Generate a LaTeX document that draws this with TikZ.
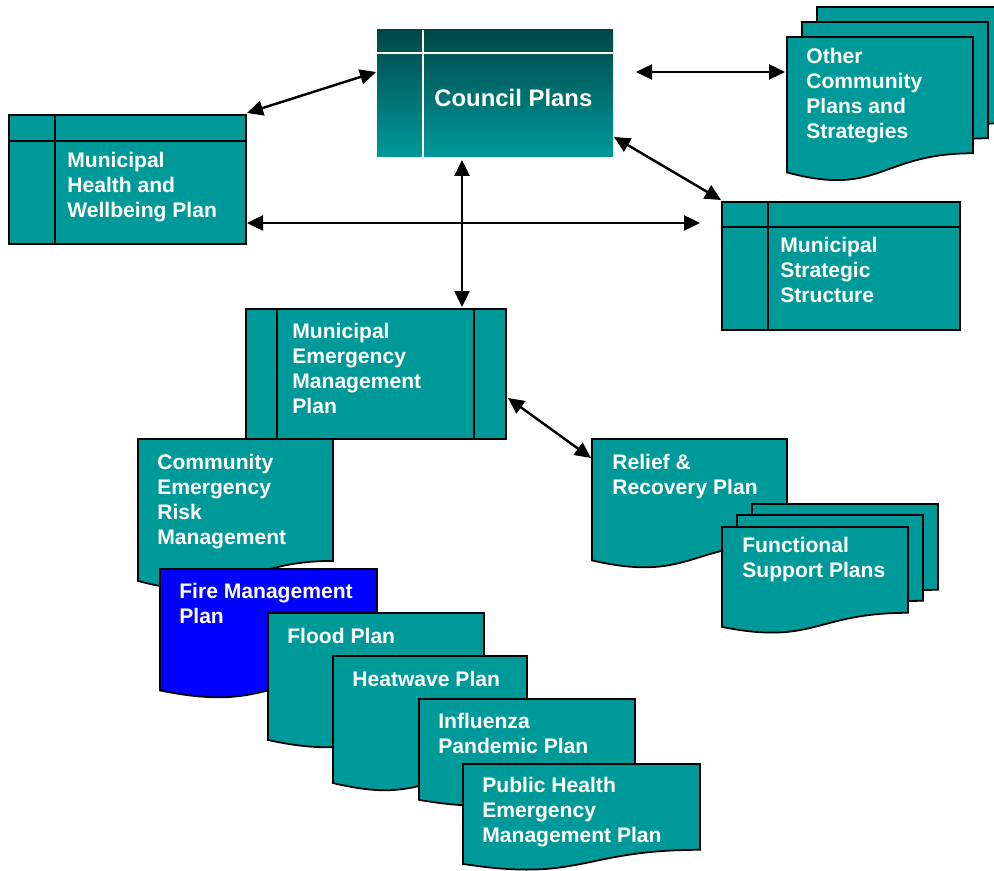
\documentclass[tikz,border=0pt]{standalone}
\usepackage{fontspec}
\setmainfont{Liberation Sans}
\usetikzlibrary{arrows.meta,fit}
\definecolor{planteal}{RGB}{0,153,153}
\definecolor{plandark}{RGB}{0,70,72}
\definecolor{fireblue}{RGB}{0,0,255}
\tikzset{
  tablebox/.style={draw=black, line width=1pt, fill=planteal, inner sep=0pt, outer sep=0pt},
  docbox/.style={draw=black, line width=1pt, fill=planteal},
  divider/.style={line width=1pt},
  plantext/.style={anchor=north west, inner sep=0pt, align=left, text=white,
    font=\bfseries\fontsize{12}{14.2}\selectfont},
  link/.style={{Triangle[length=0.32cm,width=0.3cm]}-{Triangle[length=0.32cm,width=0.3cm]}, line width=1.4pt},
}
% document shape: name, x, y, width, height, style
\newcommand{\plandoc}[6]{%
  \filldraw[#6] (#2,#3) -- ({#2+#4},#3) -- ({#2+#4},{#3+0.802*#5})
    .. controls ({#2+0.5*#4},{#3+0.802*#5}) and ({#2+0.5*#4},{#3+1.107*#5}) .. (#2,{#3+0.934*#5}) -- cycle;
  \node[fit={(#2,#3) ({#2+#4},{#3+#5})}, inner sep=0pt, outer sep=0pt] (#1) {};
}

\begin{document}
\begin{tikzpicture}[x=0.02cm, y=-0.02cm]
	\useasboundingbox (0,0) rectangle (994,871);
	\clip (0,0) rectangle (994,871);

	% council plans
	\node[fit={(377,30) (613,157)}, inner sep=0pt, outer sep=0pt, top color=plandark, bottom color=planteal] (council) {};
	\draw[white, line width=1pt] (423,30) -- (423,157) (377,53) -- (613,53);
	\node[plantext, font=\bfseries\fontsize{13.6}{16}\selectfont] (council-txt) at (434,89) {Council Plans};

	% tables
	\node[tablebox, fit={(9,115) (246,244)}] (mhwp) {};
	\draw[divider] (55,115) -- (55,244) (9,141) -- (246,141);
	\node[plantext] (mhwp-txt) at (67,152) {Municipal\\Health and\\Wellbeing Plan};

	\node[tablebox, fit={(722,202) (960,330)}] (mss) {};
	\draw[divider] (768,202) -- (768,330) (722,227) -- (960,227);
	\node[plantext] (mss-txt) at (780,237) {Municipal\\Strategic\\Structure};

	\node[tablebox, fit={(246,309) (506,439)}] (memp) {};
	\draw[divider] (277,309) -- (277,439) (474,309) -- (474,439);
	\node[plantext] (memp-txt) at (292,323) {Municipal\\Emergency\\Management\\Plan};

	% documents
	\plandoc{other-back}{817}{7}{186}{145}{docbox}
	\plandoc{other-mid}{802}{22}{186}{145}{docbox}
	\plandoc{other}{787}{37}{186}{145}{docbox}
	\node[plantext] (other-txt) at (806,48) {Other\\Community\\Plans and\\Strategies};

	\plandoc{cerm}{138}{439}{195}{152}{docbox}
	\node[plantext] (cerm-txt) at (157,454) {Community\\Emergency\\Risk\\Management};

	\plandoc{fire}{160}{569}{217}{130}{docbox, fill=fireblue}
	\node[plantext] (fire-txt) at (179,583) {Fire Management\\Plan};

	\plandoc{flood}{268}{613}{216}{136}{docbox}
	\node[plantext] (flood-txt) at (287,628) {Flood Plan};

	\plandoc{heat}{333}{656}{194}{136}{docbox}
	\node[plantext] (heat-txt) at (352,671) {Heatwave Plan};

	\plandoc{flu}{419}{699}{216}{108}{docbox}
	\node[plantext] (flu-txt) at (438,713) {Influenza\\Pandemic Plan};

	\plandoc{phem}{463}{764}{237}{107}{docbox}
	\node[plantext] (phem-txt) at (482,777) {Public Health\\Emergency\\Management Plan};

	\plandoc{relief}{592}{439}{195}{130}{docbox}
	\node[plantext] (relief-txt) at (612,454) {Relief \&\\Recovery Plan};

	\plandoc{fsp-back}{752}{504}{186}{107}{docbox}
	\plandoc{fsp-mid}{737}{515}{186}{107}{docbox}
	\plandoc{fsp}{722}{527}{186}{107}{docbox}
	\node[plantext] (fsp-txt) at (742,537) {Functional\\Support Plans};

	% links
	\draw[link] ([shift={(-1,42)}]council.north west) -- ([shift={(1,-2)}]mhwp.north east);
	\draw[link] ([shift={(23,42)}]council.north east) -- ([shift={(-2,35)}]other.north west);
	\draw[link] ([shift={(1,-20)}]council.south east) -- ([shift={(-1,-2)}]mss.north west);
	\draw[link] ([shift={(-33,3)}]council.south) -- ([shift={(86,-2)}]memp.north);
	\draw[link] ([shift={(1,43.5)}]mhwp.east) -- ([shift={(-22,-43)}]mss.west);
	\draw[link] ([shift={(2,24)}]memp.east) -- ([shift={(-1,19)}]relief.north west);
\end{tikzpicture}
\end{document}
